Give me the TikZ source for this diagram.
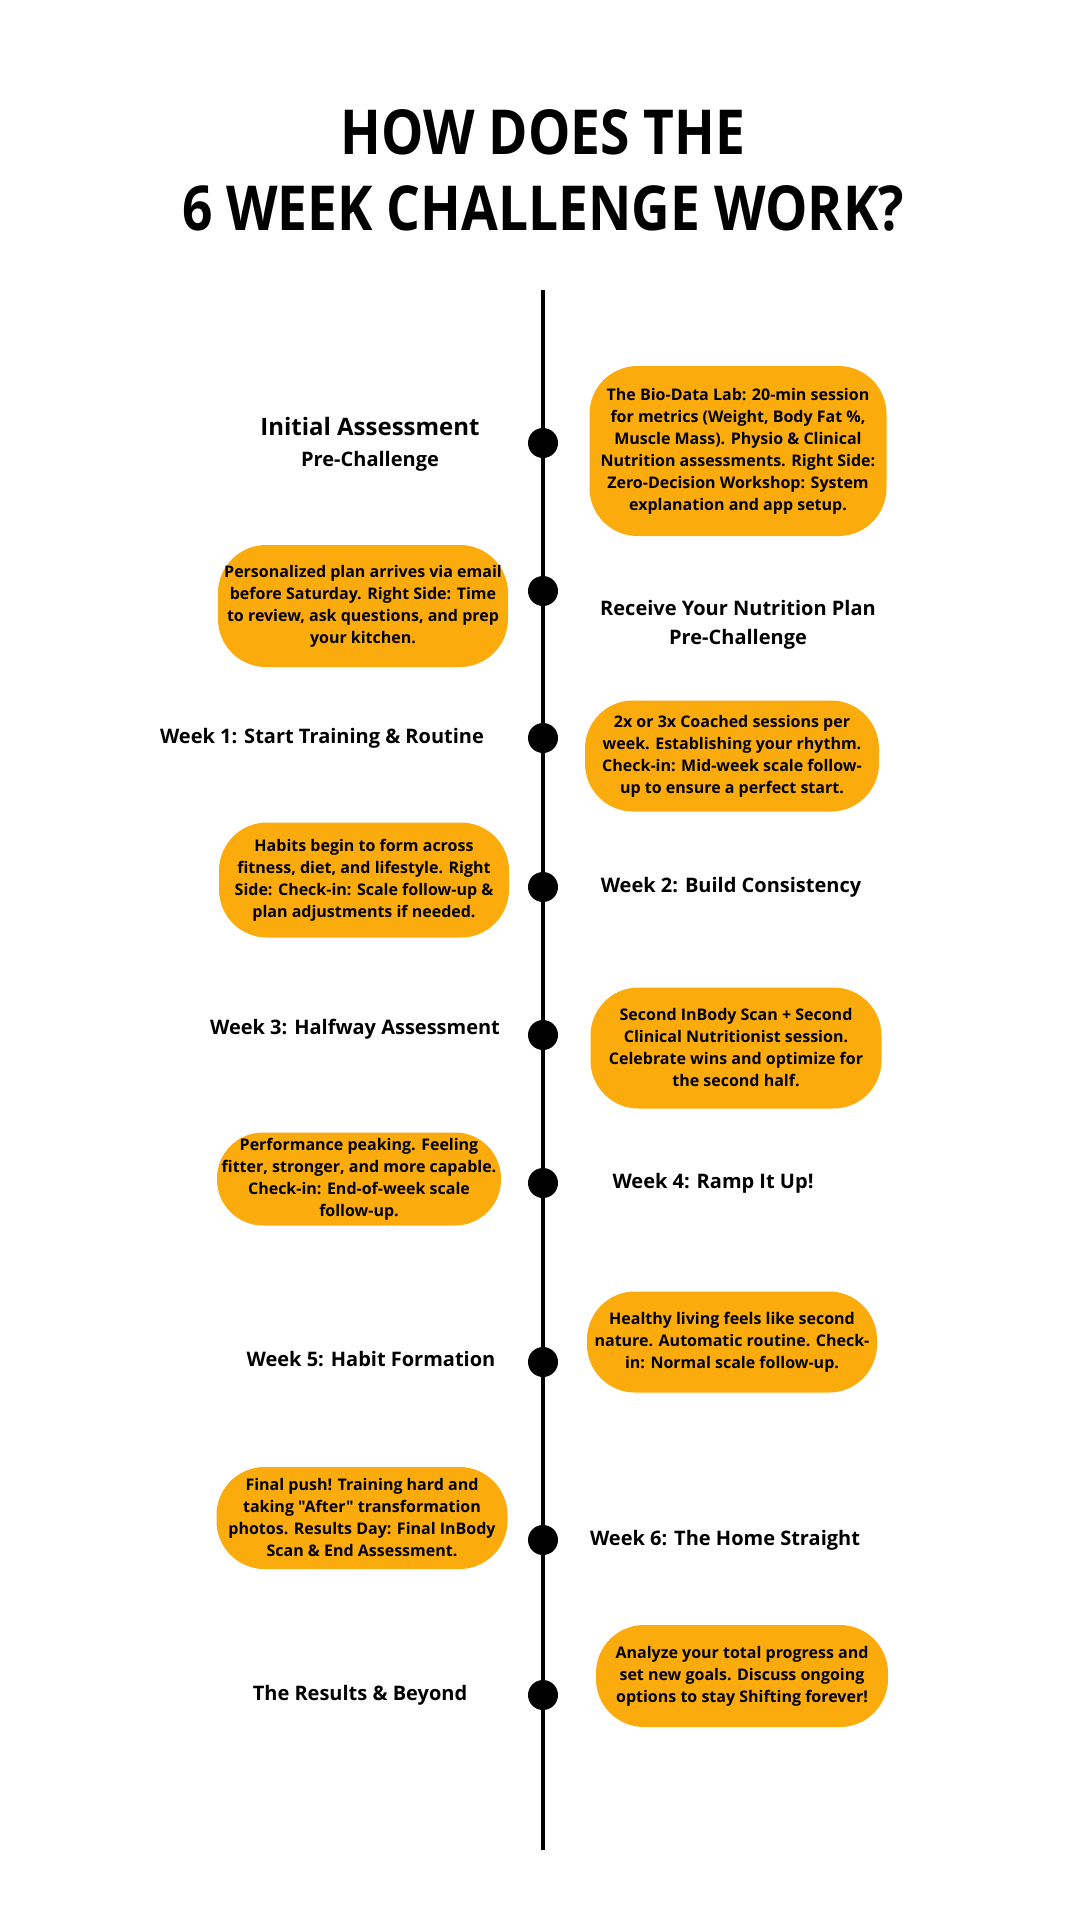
\documentclass[tikz,border=0pt]{standalone}
\usepackage{fontspec}
\setmainfont{Open Sans}[Ligatures=TeXOff]
\newfontfamily\titlefont{Open Sans}[FakeStretch=0.86]
\usepackage{tikz}
\usetikzlibrary{positioning}
\definecolor{planorange}{RGB}{252,171,12}

\begin{document}
\begin{tikzpicture}[x=1pt, y=-1pt,
                infobox/.style={fill=planorange, rounded corners=48pt, align=center, inner sep=0pt, font=\fontsize{16}{22}\selectfont\bfseries},
                steplabel/.style={align=center, font=\fontsize{20}{29}\selectfont\bfseries},
                milestone/.style={circle, fill=black, minimum size=30pt, inner sep=0pt},
                spine/.style={line width=4pt},
                headline/.style={align=center, font=\titlefont\fontsize{62}{76}\selectfont\bfseries}
            ]

            \useasboundingbox[fill=white] (0,0) rectangle (1080,1920);

            % Titel
            \node[headline] (title) at (543,170) {HOW DOES THE\\6 WEEK CHALLENGE WORK?};

            % Zeitachse
            \coordinate (top) at (543,290);
            \coordinate (bottom) at (543,1850);
            \draw[spine] (top) -- (bottom);

            \node[milestone] (d1) at (543,443) {};
            \node[milestone] (d2) at (543,591) {};
            \node[milestone] (d3) at (543,738) {};
            \node[milestone] (d4) at (543,887) {};
            \node[milestone] (d5) at (543,1035) {};
            \node[milestone] (d6) at (543,1183) {};
            \node[milestone] (d7) at (543,1362) {};
            \node[milestone] (d8) at (543,1540) {};
            \node[milestone] (d9) at (543,1695) {};

            % Beschriftungen
            \node[steplabel, font=\fontsize{20}{31}\selectfont\bfseries] (l1) at (370,444) {{\fontsize{24}{31}\selectfont Initial Assessment}\\Pre-Challenge};
            \node[steplabel] (l2) at (738,625) {Receive Your Nutrition Plan\\Pre-Challenge};
            \node[steplabel] (l3) at (322,738) {Week 1: Start Training \& Routine};
            \node[steplabel] (l4) at (731,887) {Week 2: Build Consistency};
            \node[steplabel] (l5) at (355,1029) {Week 3: Halfway Assessment};
            \node[steplabel] (l6) at (713,1183) {Week 4: Ramp It Up!};
            \node[steplabel] (l7) at (371,1359) {Week 5: Habit Formation};
            \node[steplabel] (l8) at (725,1540) {Week 6: The Home Straight};
            \node[steplabel] (l9) at (360,1695) {The Results \& Beyond};

            % Kästen
            \node[infobox, minimum width=297pt, minimum height=170pt] (b1) at (738,451) {The Bio-Data Lab: 20-min session\\for metrics (Weight, Body Fat \%,\\Muscle Mass). Physio \& Clinical\\Nutrition assessments. Right Side:\\Zero-Decision Workshop: System\\explanation and app setup.};
            \node[infobox, minimum width=290pt, minimum height=122pt] (b2) at (363,606) {Personalized plan arrives via email\\before Saturday. Right Side: Time\\to review, ask questions, and prep\\your kitchen.};
            \node[infobox, minimum width=294pt, minimum height=111pt] (b3) at (732,756) {2x or 3x Coached sessions per\\week. Establishing your rhythm.\\Check-in: Mid-week scale follow-\\up to ensure a perfect start.};
            \node[infobox, minimum width=290pt, minimum height=115pt] (b4) at (364,880) {Habits begin to form across\\fitness, diet, and lifestyle. Right\\Side: Check-in: Scale follow-up \&\\plan adjustments if needed.};
            \node[infobox, minimum width=291pt, minimum height=121pt] (b5) at (736,1048) {Second InBody Scan + Second\\Clinical Nutritionist session.\\Celebrate wins and optimize for\\the second half.};
            \node[infobox, minimum width=284pt, minimum height=93pt, rounded corners=46pt] (b6) at (359,1179) {Performance peaking. Feeling\\fitter, stronger, and more capable.\\Check-in: End-of-week scale\\follow-up.};
            \node[infobox, minimum width=290pt, minimum height=101pt] (b7) at (732,1342) {Healthy living feels like second\\nature. Automatic routine. Check-\\in: Normal scale follow-up.};
            \node[infobox, minimum width=291pt, minimum height=102pt] (b8) at (362,1518) {Final push! Training hard and\\taking "After" transformation\\photos. Results Day: Final InBody\\Scan \& End Assessment.};
            \node[infobox, minimum width=292pt, minimum height=102pt] (b9) at (742,1676) {Analyze your total progress and\\set new goals. Discuss ongoing\\options to stay Shifting forever!};

        \end{tikzpicture}
\end{document}
